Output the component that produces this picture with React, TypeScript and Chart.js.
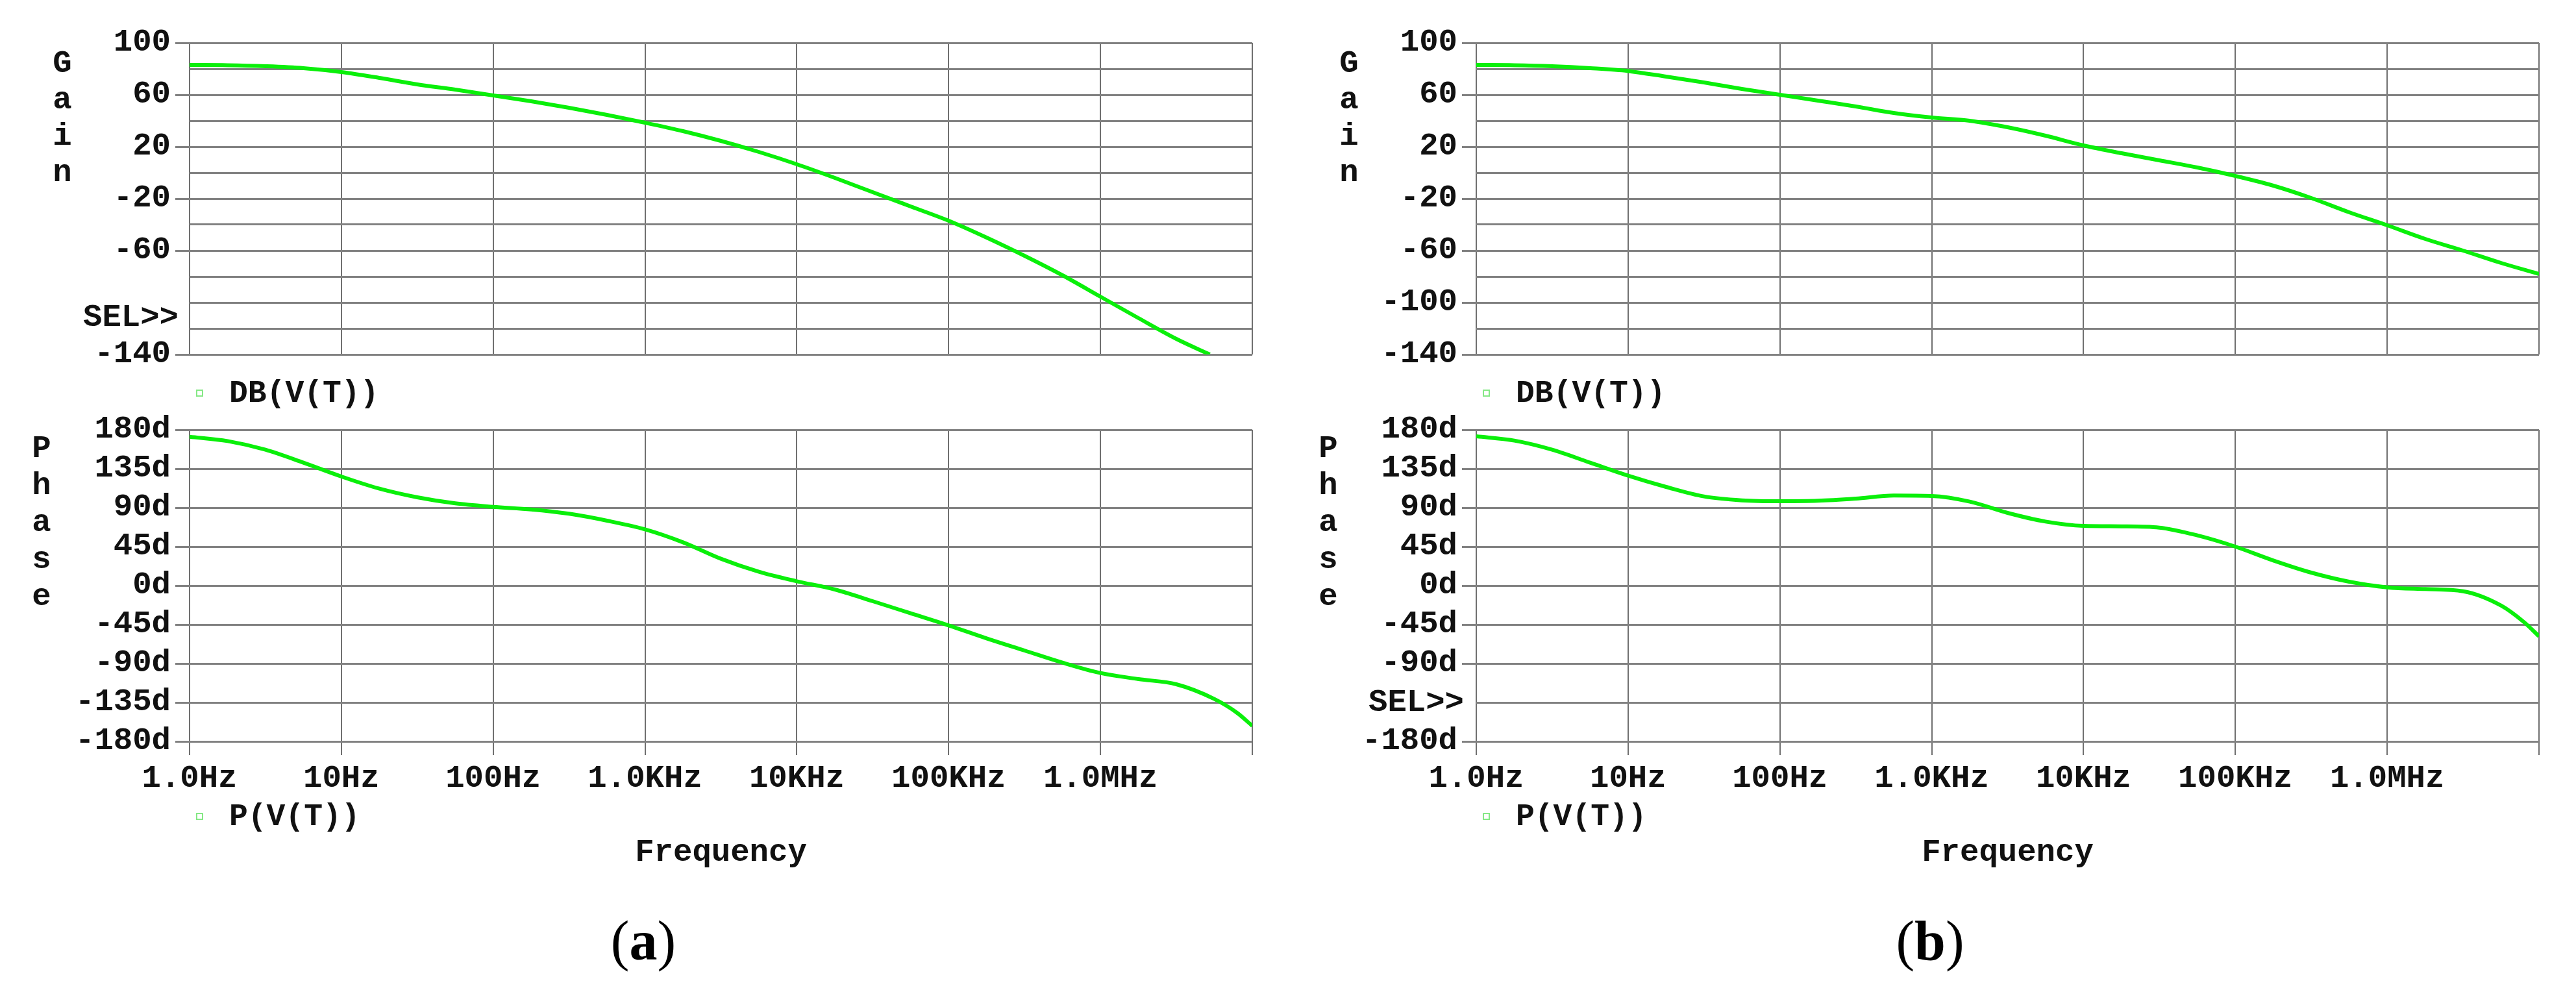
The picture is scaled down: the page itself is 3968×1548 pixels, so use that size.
import React, { useEffect, useRef } from 'react';
import { Chart, registerables } from 'chart.js';

Chart.register(...registerables);

// ---------------- DATA ----------------
const X_TICK_VALUES = [1, 10, 100, 1000, 10000, 100000, 1000000, 10000000];
const X_TICK_LABELS = ['1.0Hz', '10Hz', '100Hz', '1.0KHz', '10KHz', '100KHz', '1.0MHz', ''];

const GAIN_TICK_VALUES_SHOWN_A = [100, 60, 20, -20, -60, -140];
const GAIN_TICK_VALUES_SHOWN_B = [100, 60, 20, -20, -60, -100, -140];
const PHASE_TICK_VALUES_SHOWN_A = [180, 135, 90, 45, 0, -45, -90, -135, -180];
const PHASE_TICK_VALUES_SHOWN_B = [180, 135, 90, 45, 0, -45, -90, -180];

// (a) gain, dB
const GAIN_A_FREQ = [1, 1.78, 3.16, 5.62, 10, 17.8, 31.6, 56.2, 100, 178, 316, 562, 1000, 1780, 3160, 5620, 10000, 17800, 31600, 56200, 100000, 178000, 316000, 562000, 1000000, 1780000, 3160000, 5250000];
const GAIN_A_DB = [83, 82.8, 82, 80.5, 77.5, 73, 68, 64, 59.5, 55, 50, 44.5, 38.5, 32, 24.5, 16, 6.5, -4, -15, -26, -37, -50, -64, -79, -95.5, -112, -128, -140];

// (a) phase, degrees
const PHASE_A_FREQ = [1, 1.78, 3.16, 5.62, 10, 17.8, 31.6, 56.2, 100, 178, 316, 562, 1000, 1780, 3160, 5620, 10000, 17800, 31600, 56200, 100000, 178000, 316000, 562000, 1000000, 1780000, 3160000, 5620000, 7940000, 10000000];
const PHASE_A_DEG = [172, 167, 157, 142, 126, 112, 102, 95, 91, 88, 83, 75, 65, 50, 31, 16, 5, -4.5, -18, -32, -46, -61, -75, -89, -101, -108, -114, -131, -147, -162];

// (b) gain, dB
const GAIN_B_FREQ = [1, 1.78, 3.16, 5.62, 10, 17.8, 31.6, 56.2, 100, 178, 316, 562, 1000, 1780, 3160, 5620, 10000, 17800, 31600, 56200, 100000, 178000, 316000, 562000, 1000000, 1780000, 3160000, 5620000, 10000000];
const GAIN_B_DB = [83, 82.8, 82, 80.5, 78.3, 74, 69.5, 64.5, 60, 55.5, 51, 46, 42.5, 40, 35, 28.5, 21, 15, 9.5, 4, -2.5, -10, -19.5, -30.5, -40.5, -51, -60, -69.5, -78];

// (b) phase, degrees
const PHASE_B_FREQ = [1, 1.78, 3.16, 5.62, 10, 17.8, 31.6, 56.2, 100, 178, 316, 562, 1000, 1780, 3160, 5620, 10000, 17800, 31600, 56200, 100000, 178000, 316000, 562000, 1000000, 1780000, 3160000, 5620000, 7940000, 10000000];
const PHASE_B_DEG = [172.5, 167.5, 157, 142, 127, 114, 103, 98.5, 97.5, 98, 100.5, 104, 103.5, 97, 84, 74, 69, 68.5, 67, 58, 45, 29, 15, 4.5, -2, -4, -6.5, -23, -42, -58.5];

// ---------------- STYLE ----------------
const MONO = '"Liberation Mono", "Courier New", monospace';
const SERIF = '"Liberation Serif", "Times New Roman", serif';
const GREEN = '#0aef0a';
const TEXT = '#111111';
const H_GRID = '#828282';
const V_GRID = '#707070';
const TICK_FONT = { family: MONO, size: 49, weight: 'bold' as const };

const CANVAS_W = 1984;
const GAIN_CANVAS = { top: 0, height: 600, padTop: 66, padBottom: 54, xAxisH: 0 };
const PHASE_CANVAS = { top: 600, height: 648, padTop: 62, padBottom: 26, xAxisH: 80 };
const Y_AXIS_W = 292;
const PAD_RIGHT = 55;

type SelMark = { value: number; dx: number; dy: number } | null;

function zip(xs: number[], ys: number[]) {
  return xs.map((x, i) => ({ x, y: ys[i] }));
}

function selPlugin(sel: SelMark) {
  return {
    id: 'selMark',
    afterDraw(chart: any) {
      if (!sel) return;
      const ctx = chart.ctx;
      const ys = chart.scales.y;
      ctx.save();
      ctx.font = `bold ${TICK_FONT.size}px ${MONO}`;
      ctx.fillStyle = TEXT;
      ctx.textAlign = 'right';
      ctx.textBaseline = 'middle';
      ctx.fillText('SEL>>', chart.chartArea.left + sel.dx, ys.getPixelForValue(sel.value) + sel.dy);
      ctx.restore();
    },
  };
}

function buildConfig(opts: {
  freq: number[];
  values: number[];
  yMin: number;
  yMax: number;
  yStep: number;
  shown: number[];
  suffix: string;
  showX: boolean;
  layout: { padTop: number; padBottom: number; xAxisH: number };
  sel: SelMark;
}) {
  const { freq, values, yMin, yMax, yStep, shown, suffix, showX, layout, sel } = opts;
  return {
    type: 'line' as const,
    data: {
      datasets: [
        {
          data: zip(freq, values),
          borderColor: GREEN,
          borderWidth: 6,
          pointRadius: 0,
          fill: false,
          cubicInterpolationMode: 'monotone' as const,
        },
      ],
    },
    options: {
      animation: false as const,
      responsive: false,
      maintainAspectRatio: false,
      events: [],
      layout: { padding: { top: layout.padTop, bottom: layout.padBottom, left: 0, right: PAD_RIGHT } },
      plugins: {
        legend: { display: false },
        tooltip: { enabled: false },
        title: { display: false },
      },
      scales: {
        x: {
          type: 'logarithmic' as const,
          min: X_TICK_VALUES[0],
          max: X_TICK_VALUES[X_TICK_VALUES.length - 1],
          afterBuildTicks: (scale: any) => {
            scale.ticks = X_TICK_VALUES.map((v) => ({ value: v }));
          },
          afterFit: (scale: any) => {
            scale.height = layout.xAxisH;
          },
          ticks: {
            display: showX,
            autoSkip: false,
            maxRotation: 0,
            minRotation: 0,
            padding: 7,
            color: TEXT,
            font: TICK_FONT,
            callback: (v: any) => {
              const i = X_TICK_VALUES.indexOf(Number(v));
              return i >= 0 ? X_TICK_LABELS[i] : '';
            },
          },
          grid: {
            color: V_GRID,
            lineWidth: 2,
            drawTicks: showX,
            tickLength: 21,
            tickColor: V_GRID,
            tickWidth: 2,
          },
          border: { display: false },
        },
        y: {
          type: 'linear' as const,
          min: yMin,
          max: yMax,
          afterFit: (scale: any) => {
            scale.width = Y_AXIS_W;
          },
          ticks: {
            stepSize: yStep,
            autoSkip: false,
            padding: 7,
            color: TEXT,
            font: TICK_FONT,
            callback: (v: any) => (shown.includes(Number(v)) ? `${v}${suffix}` : ''),
          },
          grid: {
            color: H_GRID,
            lineWidth: 3,
            drawTicks: true,
            tickLength: 22,
            tickWidth: 3,
            tickColor: (ctx: any) => (ctx.tick && shown.includes(ctx.tick.value) ? H_GRID : 'rgba(0,0,0,0)'),
          },
          border: { display: false },
        },
      },
    },
    plugins: [selPlugin(sel)],
  };
}

function ChartBox({ left, top, width, height, config }: any) {
  const ref = useRef<HTMLCanvasElement>(null);
  useEffect(() => {
    const chart = new Chart(ref.current as HTMLCanvasElement, config as any);
    return () => chart.destroy();
  }, []);
  return (
    <canvas
      ref={ref}
      width={width}
      height={height}
      style={{ position: 'absolute', left, top, width, height }}
    />
  );
}

function Txt({ x, y, w, align, font, size, weight, lh, children }: any) {
  return (
    <div
      style={{
        position: 'absolute',
        left: x,
        top: y,
        width: w,
        textAlign: align || 'left',
        fontFamily: font || MONO,
        fontSize: size || 48,
        fontWeight: weight || 'bold',
        lineHeight: `${lh || size || 48}px`,
        color: TEXT,
        whiteSpace: 'pre',
      }}
    >
      {children}
    </div>
  );
}

function Panel({ dx, gainFreq, gainVals, phaseFreq, phaseVals, gainShown, phaseShown, gainSel, phaseSel, caption }: any) {
  const gainCfg = buildConfig({
    freq: gainFreq,
    values: gainVals,
    yMin: -140,
    yMax: 100,
    yStep: 20,
    shown: gainShown,
    suffix: '',
    showX: false,
    layout: GAIN_CANVAS,
    sel: gainSel,
  });
  const phaseCfg = buildConfig({
    freq: phaseFreq,
    values: phaseVals,
    yMin: -180,
    yMax: 180,
    yStep: 45,
    shown: phaseShown,
    suffix: 'd',
    showX: true,
    layout: PHASE_CANVAS,
    sel: phaseSel,
  });
  const gainLetters = ['G', 'a', 'i', 'n'];
  const phaseLetters = ['P', 'h', 'a', 's', 'e'];
  return (
    <>
      <ChartBox left={dx} top={GAIN_CANVAS.top} width={CANVAS_W} height={GAIN_CANVAS.height} config={gainCfg} />
      <ChartBox left={dx} top={PHASE_CANVAS.top} width={CANVAS_W} height={PHASE_CANVAS.height} config={phaseCfg} />
      {gainLetters.map((c, i) => (
        <Txt key={'g' + i} x={dx + 76} y={111 + 56 * i - 41} w={40} align="center" size={49} lh={56}>
          {c}
        </Txt>
      ))}
      {phaseLetters.map((c, i) => (
        <Txt key={'p' + i} x={dx + 44} y={704 + 57 * i - 41} w={40} align="center" size={49} lh={56}>
          {c}
        </Txt>
      ))}
      {/* legends */}
      <div style={{ position: 'absolute', left: dx + 302, top: 600, width: 11, height: 11, border: '2px solid #86e886', boxSizing: 'border-box' }} />
      <Txt x={dx + 353} y={605 - 23}>DB(V(T))</Txt>
      <div style={{ position: 'absolute', left: dx + 302, top: 1252, width: 11, height: 11, border: '2px solid #86e886', boxSizing: 'border-box' }} />
      <Txt x={dx + 353} y={1257 - 23}>P(V(T))</Txt>
      <Txt x={dx + 292} y={1289} w={1637} align="center" size={49}>
        Frequency
      </Txt>
      <div
        style={{
          position: 'absolute',
          left: dx + 791,
          top: 1406,
          width: 400,
          textAlign: 'center',
          fontFamily: SERIF,
          fontSize: 86,
          lineHeight: '86px',
          color: '#000',
        }}
      >
        (<b>{caption}</b>)
      </div>
    </>
  );
}

export default function App() {
  return (
    <div
      style={{
        position: 'absolute',
        left: 0,
        top: 0,
        width: 3968,
        height: 1548,
        background: '#ffffff',
        overflow: 'hidden',
      }}
    >
      <Panel
        dx={0}
        gainFreq={GAIN_A_FREQ}
        gainVals={GAIN_A_DB}
        phaseFreq={PHASE_A_FREQ}
        phaseVals={PHASE_A_DEG}
        gainShown={GAIN_TICK_VALUES_SHOWN_A}
        phaseShown={PHASE_TICK_VALUES_SHOWN_A}
        gainSel={{ value: -100, dx: -17, dy: 24 }}
        phaseSel={null}
        caption="a"
      />
      <Panel
        dx={1982}
        gainFreq={GAIN_B_FREQ}
        gainVals={GAIN_B_DB}
        phaseFreq={PHASE_B_FREQ}
        phaseVals={PHASE_B_DEG}
        gainShown={GAIN_TICK_VALUES_SHOWN_B}
        phaseShown={PHASE_TICK_VALUES_SHOWN_B}
        gainSel={null}
        phaseSel={{ value: -135, dx: -19, dy: 1 }}
        caption="b"
      />
    </div>
  );
}
